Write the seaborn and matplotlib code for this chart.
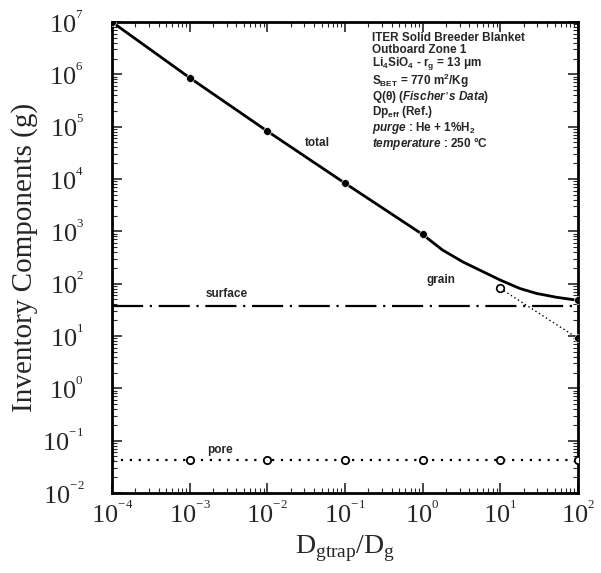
import numpy as np
import pandas as pd
import matplotlib
matplotlib.use("Agg")
import matplotlib.pyplot as plt
import seaborn as sns

# data
ratio = [1e-4, 1e-3, 1e-2, 1e-1, 1e0, 1e1, 1e2]
grain = [1.0e7, 8.6e5, 8.2e4, 8.3e3, 8.1e2, 8.1e1, 9.0]
surface = [37, 37, 37, 37, 37, 37, 37]
pore = [0.042, 0.042, 0.042, 0.042, 0.042, 0.042, 0.042]
total_x = [1e-4, 1e-3, 1e-2, 1e-1, 1e0, 1.8, 3.3, 1e1, 17.8, 29.3, 52.7, 1e2]
total = [1.0e7, 8.6e5, 8.2e4, 8.3e3, 8.7e2, 4.4e2, 2.6e2, 1.17e2, 8.1e1, 6.5e1, 5.5e1, 4.8e1]
total_mark_x = [1e-4, 1e-3, 1e-2, 1e-1, 1e0, 1e2]
total_mark = [1.0e7, 8.6e5, 8.2e4, 8.3e3, 8.7e2, 4.8e1]
x_exponents = ["-4", "-3", "-2", "-1", "0", "1", "2"]
y_exponents = ["-2", "-1", "0", "1", "2", "3", "4", "5", "6", "7"]

sns.set_style("ticks")
plt.rcParams['font.family'] = ['Liberation Serif', 'DejaVu Serif']
plt.rcParams['mathtext.fontset'] = 'custom'
plt.rcParams['mathtext.rm'] = 'Liberation Serif'
plt.rcParams['mathtext.it'] = 'Liberation Sans:italic:bold'
plt.rcParams['mathtext.sf'] = 'Liberation Sans:bold'
plt.rcParams['mathtext.bf'] = 'Liberation Sans:bold'


def pow_label(e):
    return r"$\mathregular{10^{{}^{%s}}}$" % e


fig = plt.figure(figsize=(6.01, 5.73), dpi=100)
ax = fig.add_axes([112 / 601, 1 - 493 / 573, 466 / 601, 471 / 573])

df_tot = pd.DataFrame({"x": total_x, "y": total})
sns.lineplot(data=df_tot, x="x", y="y", ax=ax, color="black", lw=2.0)
sns.scatterplot(x=total_mark_x, y=total_mark, ax=ax, color="black", s=32, zorder=5)

df_g = pd.DataFrame({"x": ratio[5:], "y": grain[5:]})
sns.lineplot(data=df_g, x="x", y="y", ax=ax, color="black", lw=1.0, linestyle=(0, (1, 2)))
sns.scatterplot(x=[ratio[5]], y=[grain[5]], ax=ax, facecolor="white", edgecolor="black", s=30, linewidth=1.2, zorder=5)
sns.scatterplot(x=[ratio[6]], y=[grain[6]], ax=ax, color="black", s=32, zorder=5)

df_s = pd.DataFrame({"x": ratio, "y": surface})
sns.lineplot(data=df_s, x="x", y="y", ax=ax, color="black", lw=1.6, linestyle=(0, (14, 3, 1, 3)))

df_p = pd.DataFrame({"x": ratio, "y": pore})
sns.lineplot(data=df_p, x="x", y="y", ax=ax, color="black", lw=1.6, linestyle=(0, (1, 3)))
sns.scatterplot(x=ratio[1:], y=pore[1:], ax=ax, facecolor="white", edgecolor="black", s=28, linewidth=1.3, zorder=5)

ax.set_xscale("log")
ax.set_yscale("log")
ax.set_xlim(1e-4, 1e2)
ax.set_ylim(1e-2, 1e7)
ax.set_xticks(ratio)
ax.set_xticklabels([pow_label(e) for e in x_exponents])
ax.set_yticks([10.0 ** k for k in range(-2, 8)])
ax.set_yticklabels([pow_label(e) for e in y_exponents])
ax.yaxis.set_minor_locator(matplotlib.ticker.LogLocator(base=10, subs=np.arange(2, 10), numticks=20))
ax.xaxis.set_minor_locator(matplotlib.ticker.LogLocator(base=10, subs=np.arange(2, 10), numticks=20))
ax.yaxis.set_minor_formatter(matplotlib.ticker.NullFormatter())
ax.xaxis.set_minor_formatter(matplotlib.ticker.NullFormatter())
ax.tick_params(which="both", direction="in", top=True, right=True, labelsize=19)
ax.tick_params(which="major", length=7, width=1.2)
ax.tick_params(which="minor", length=3.5, width=0.8)
ax.tick_params(axis="y", which="major", pad=20)
ax.tick_params(axis="x", which="major", pad=6)
for sp in ax.spines.values():
    sp.set_linewidth(2.0)
    sp.set_color("black")

ax.set_xlabel(r"D$_{\rm gtrap}$/D$_{\rm g}$", fontsize=20, labelpad=4)
ax.set_ylabel("Inventory Components (g)", fontsize=21)
ax.yaxis.set_label_coords((38 - 112) / 466, 0.5)

lab = dict(fontsize=8.5, fontweight="bold", family=["Liberation Sans", "DejaVu Sans"])
ax.text(3.0e-2, 4.9e4, "total", va="center", **lab)
ax.text(1.13e0, 1.17e2, "grain", va="center", **lab)
ax.text(1.6e-3, 6.3e1, "surface", va="center", **lab)
ax.text(1.67e-3, 6.6e-2, "pore", va="center", **lab)

info_lines = ["ITER Solid Breeder Blanket",
              "Outboard Zone 1",
              r"Li$_\mathsf{4}$SiO$_\mathsf{4}$ - r$_\mathsf{g}$ = 13 μm",
              r"S$_\mathsf{BET}$ = 770 m$^\mathsf{2}$/Kg",
              r"Q(θ) ($\mathit{Fischer’s\ Data}$)",
              r"Dp$_\mathsf{eff}$ (Ref.)",
              r"$\mathit{purge}$ : He + 1%H$_\mathsf{2}$",
              r"$\mathit{temperature}$ : 250 °C"]
ax.text((372 - 112) / 466, 1 - (32 - 22) / 471, "\n".join(info_lines),
        transform=ax.transAxes, fontsize=8.5, fontweight="bold", va="top", ha="left",
        linespacing=0.95, family=["Liberation Sans", "DejaVu Sans"])

fig.savefig("out.png", dpi=100)
